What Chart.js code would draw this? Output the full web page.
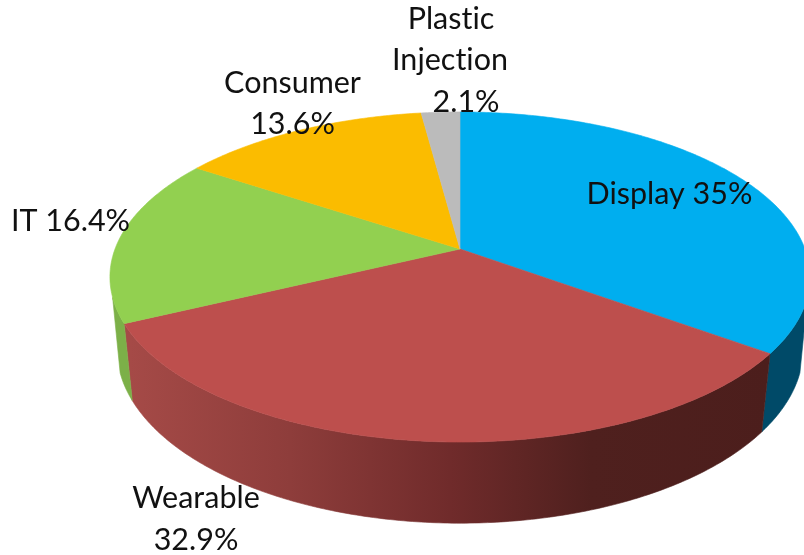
<!DOCTYPE html>
<html><head><meta charset="utf-8">
<style>html,body{margin:0;padding:0;background:#fff;overflow:hidden}canvas{display:block}</style>
<script src="https://cdn.jsdelivr.net/npm/chart.js@4"></script>
</head><body>
<canvas id="c" width="804" height="555"></canvas>
<script>
const categories = ['Display', 'Wearable', 'IT', 'Consumer', 'Plastic Injection'];
const shares = [35, 32.9, 16.4, 13.6, 2.1];
const sliceColors = ['#00AEEF', '#BD4F4D', '#92D050', '#FBBC00', '#BBBBBB'];
const labelLines = [['Display 35%'], ['Wearable', '32.9%'], ['IT 16.4%'], ['Consumer', '13.6%'], ['Plastic', 'Injection', '2.1%']];
const labelAnchors = [
  [[669.5, 194]],
  [[196, 498], [196, 540]],
  [[70.5, 221]],
  [[292.5, 83], [292.5, 124.5]],
  [[451, 19], [450, 60.5], [466, 102]]
];
const wallStops = [
  [[0, '#004A68'], [1, '#004A68']],
  [[0, '#A54A47'], [0.25, '#8E3D3B'], [0.5, '#702B2B'], [0.72, '#4F201E'], [1, '#4C1E1C']],
  [[0, '#7CB048'], [1, '#7CB048']],
  [[0, '#B08400'], [1, '#B08400']],
  [[0, '#888888'], [1, '#888888']]
];
const topPlane = {cx: 460, cy: 249, a: 345, b: 160.3, p: 0.1697};
const basePlane = {cx: 460, cy: 322, a: 339, b: 170, p: 0.155};
const wallFrom = 0.29, wallTo = 2.85;
const project = (pl, ang) => {
  const u = Math.cos(ang), v = Math.sin(ang), w = 1 - pl.p * v;
  return [pl.cx + pl.a * u / w, pl.cy + pl.b * v / w];
};
const sampleArc = (pl, s, e) => {
  const n = Math.max(2, Math.ceil((e - s) * 90)), pts = [];
  for (let i = 0; i <= n; i++) pts.push(project(pl, s + (e - s) * i / n));
  return pts;
};
const tracePolygon = (ctx, pts) => {
  ctx.beginPath();
  pts.forEach((q, i) => i ? ctx.lineTo(q[0], q[1]) : ctx.moveTo(q[0], q[1]));
  ctx.closePath();
};
const tiltedPie = {
  id: 'tiltedPie',
  beforeDatasetsDraw(chart) {
    const ctx = chart.ctx, arcs = chart.getDatasetMeta(0).data;
    ctx.save();
    arcs.forEach((arc, i) => {
      const vis0 = Math.max(arc.startAngle, wallFrom), vis1 = Math.min(arc.endAngle, wallTo);
      if (vis1 > vis0) {
        const poly = sampleArc(topPlane, vis0, vis1).concat(sampleArc(basePlane, vis0, vis1).reverse());
        const g = ctx.createLinearGradient(130, 0, 770, 0);
        wallStops[i].forEach(st => g.addColorStop(st[0], st[1]));
        tracePolygon(ctx, poly);
        ctx.fillStyle = g; ctx.strokeStyle = g; ctx.lineWidth = 0.6;
        ctx.fill(); ctx.stroke();
      }
    });
    arcs.forEach((arc) => {
      const poly = [[topPlane.cx, topPlane.cy]].concat(sampleArc(topPlane, arc.startAngle, arc.endAngle));
      tracePolygon(ctx, poly);
      ctx.fillStyle = arc.options.backgroundColor; ctx.strokeStyle = arc.options.backgroundColor; ctx.lineWidth = 0.6;
      ctx.fill(); ctx.stroke();
    });
    ctx.fillStyle = '#111';
    ctx.font = '30.5px Lato';
    ctx.textRendering = 'optimizeSpeed';
    ctx.textAlign = 'center';
    ctx.textBaseline = 'middle';
    labelLines.forEach((lines, i) => lines.forEach((t, j) => ctx.fillText(t, labelAnchors[i][j][0], labelAnchors[i][j][1])));
    ctx.restore();
    return false;
  }
};
new Chart(document.getElementById('c'), {
  type: 'pie',
  data: {labels: categories, datasets: [{data: shares, backgroundColor: sliceColors, borderWidth: 0}]},
  options: {
    responsive: false, animation: false, devicePixelRatio: 1,
    plugins: {legend: {display: false}, tooltip: {enabled: false}}
  },
  plugins: [tiltedPie]
});
</script>
</body></html>
